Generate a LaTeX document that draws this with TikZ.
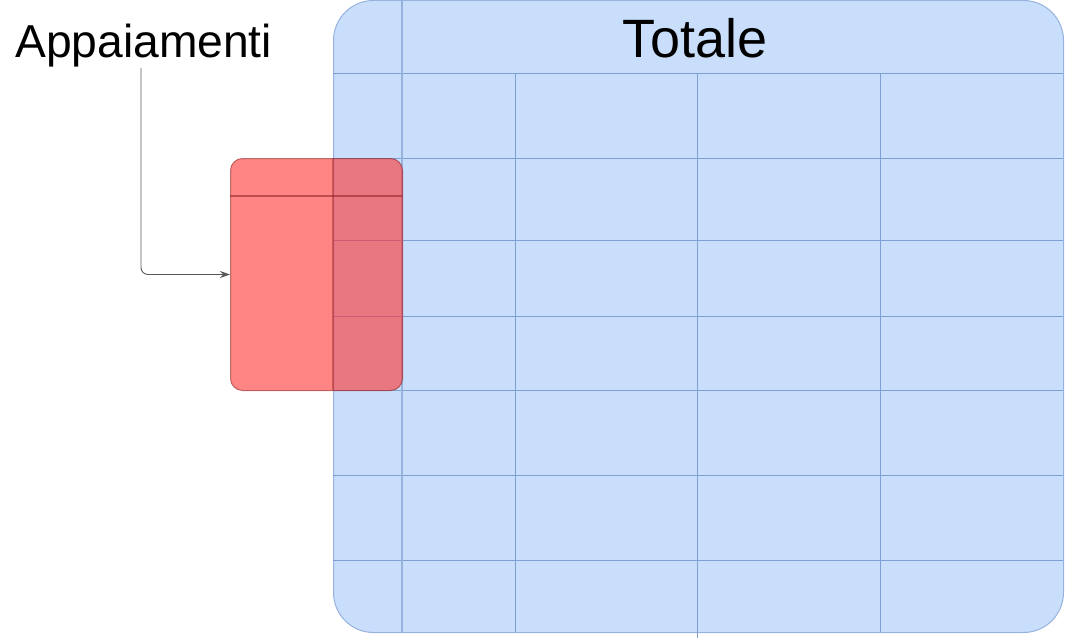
\documentclass[tikz,border=0pt]{standalone}
\usepackage{fontspec}
\setmainfont{Liberation Sans}
\usetikzlibrary{arrows.meta}
\definecolor{bluefill}{RGB}{201,222,250}
\definecolor{blueline}{RGB}{126,158,212}
\definecolor{blueedge}{RGB}{150,178,222}
\definecolor{redfill}{RGB}{255,51,51}
\definecolor{rededge}{RGB}{150,40,40}
\definecolor{arrowgray}{RGB}{90,90,90}
\tikzset{
  tablebox/.style={draw=blueedge, fill=bluefill, line width=1pt, rounded corners=40pt, inner sep=0pt},
  gridline/.style={draw=blueline, line width=0.9pt},
  pairbox/.style={draw=rededge, draw opacity=0.6, fill=redfill, fill opacity=0.6, line width=1pt, rounded corners=12pt, inner sep=0pt},
  label/.style={inner sep=0pt, text=black},
  conn/.style={draw=arrowgray, line width=0.9pt, rounded corners=7pt, -{Stealth[length=10pt,width=7pt]}}
}
\begin{document}
\begin{tikzpicture}[x=1pt,y=-1pt]
\useasboundingbox (0,0) rectangle (1065,642);
% blue table
\node[tablebox, minimum width=730pt, minimum height=632pt, anchor=north west] (tot) at (333,0) {};
\foreach \y in {73,158,240,316,390,475,560}
  \draw[gridline] (333,\y) -- (1063,\y);
\draw[gridline, draw=blueedge, line width=1.6pt] (402,0) -- (402,632);
\foreach \x in {515,880}
  \draw[gridline] (\x,73) -- (\x,632);
\draw[gridline] (697,73) -- (697,638);
\node[label, font=\fontsize{54}{54}\selectfont, anchor=base] (tit) at (695,57) {Totale};
% red box
\node[pairbox, minimum width=172pt, minimum height=232pt, anchor=north west] (app) at (230,158) {};
\draw[draw=rededge, draw opacity=0.6, line width=1.2pt] (230,196) -- (402,196);
\draw[draw=rededge, draw opacity=0.45, line width=1.2pt] (333,158) -- (333,390);
% label and connector
\node[label, font=\fontsize{46.2}{46.2}\selectfont, anchor=base west] (lbl) at (15,57) {Appaiamenti};
\coordinate (start) at (141,68);
\draw[conn] (start) |- (app.west);
\end{tikzpicture}
\end{document}
